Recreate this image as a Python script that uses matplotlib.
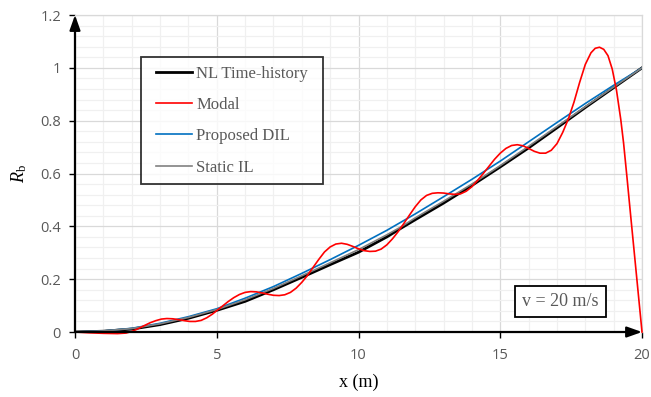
import matplotlib

matplotlib.use('Agg')

import matplotlib.pyplot as plt
from matplotlib.legend_handler import HandlerLine2D
from matplotlib.lines import Line2D
from matplotlib.ticker import MultipleLocator, FuncFormatter

# ---------------------------------------------------------------------------
# Data (x in m, R_b dimensionless)
# ---------------------------------------------------------------------------
x_static = [0, 1, 2, 3, 4, 5, 6, 7, 8, 9, 10, 11, 11.5, 12, 13, 14, 15, 16,
            17, 18, 19, 20]
rb_static = [0.0, 0.004, 0.013, 0.031, 0.055, 0.085, 0.122, 0.165, 0.213,
             0.262, 0.312, 0.368, 0.398, 0.432, 0.495, 0.560, 0.630, 0.703,
             0.778, 0.853, 0.927, 1.0]

x_dil = [0, 1, 2, 3, 4, 5, 6, 7, 8, 9, 10, 11, 12, 13, 14, 15, 16, 17, 18,
         19, 20]
rb_dil = [0.0, 0.004, 0.014, 0.033, 0.058, 0.088, 0.128, 0.172, 0.222,
          0.274, 0.328, 0.385, 0.447, 0.512, 0.578, 0.647, 0.720, 0.793,
          0.865, 0.934, 1.0]

x_nl = [0, 1, 2, 3, 4, 5, 6, 7, 8, 9, 10, 11, 11.5, 12, 13, 14, 15, 16, 17,
        18, 19, 20]
rb_nl = [0.0, 0.003, 0.011, 0.028, 0.052, 0.082, 0.116, 0.160, 0.207, 0.255,
         0.302, 0.360, 0.393, 0.425, 0.488, 0.555, 0.625, 0.697, 0.773, 0.850,
         0.925, 1.0]

x_modal = [0.0, 0.5, 1.0, 1.5, 1.8, 2.0, 2.2, 2.4, 2.65, 2.85, 3.05, 3.24,
           3.45, 3.65, 3.85, 4.05, 4.25, 4.45, 4.65, 4.85, 5.0, 5.2, 5.4,
           5.6, 5.8, 6.0, 6.2, 6.4, 6.6, 6.8, 7.0, 7.2, 7.4, 7.6, 7.8, 8.0,
           8.2, 8.4, 8.6, 8.8, 9.0, 9.2, 9.4, 9.6, 9.8, 10.0, 10.2, 10.4,
           10.6, 10.8, 11.0, 11.2, 11.4, 11.6, 11.8, 12.0, 12.2, 12.4, 12.6,
           12.8, 13.0, 13.2, 13.4, 13.6, 13.8, 14.0, 14.2, 14.4, 14.6, 14.8,
           15.0, 15.2, 15.4, 15.6, 15.8, 16.0, 16.2, 16.4, 16.6, 16.8, 17.0,
           17.2, 17.4, 17.6, 17.8, 18.0, 18.2, 18.35, 18.5, 18.65, 18.8,
           18.95, 19.1, 19.25, 19.35, 19.47, 19.6, 19.8, 20.0]
rb_modal = [0.0, -0.003, -0.005, -0.006, -0.004, 0.002, 0.011, 0.022, 0.035,
            0.043, 0.049, 0.051, 0.050, 0.047, 0.043, 0.040, 0.040, 0.044,
            0.054, 0.068, 0.081, 0.098, 0.115, 0.130, 0.142, 0.150, 0.153,
            0.152, 0.148, 0.143, 0.139, 0.138, 0.141, 0.150, 0.166, 0.188,
            0.214, 0.245, 0.275, 0.303, 0.322, 0.333, 0.336, 0.332, 0.324,
            0.315, 0.308, 0.305, 0.306, 0.314, 0.330, 0.353, 0.380, 0.411,
            0.443, 0.474, 0.500, 0.517, 0.525, 0.527, 0.526, 0.523, 0.521,
            0.523, 0.533, 0.550, 0.574, 0.600, 0.627, 0.654, 0.677, 0.695,
            0.706, 0.709, 0.705, 0.695, 0.684, 0.677, 0.677, 0.688, 0.713,
            0.755, 0.806, 0.870, 0.945, 1.013, 1.057, 1.074, 1.078, 1.070,
            1.046, 0.995, 0.915, 0.805, 0.715, 0.585, 0.440, 0.220, 0.0]

labels = ['NL Time-history', 'Modal', 'Proposed DIL', 'Static IL']
colors = ['#000000', '#ff0000', '#0070c0', '#808080']

SERIF = ['Liberation Serif', 'DejaVu Serif']
TICK_FONT = ['Open Sans', 'DejaVu Sans']
TEXT_GRAY = '#595959'

plt.rcParams['mathtext.fontset'] = 'custom'
plt.rcParams['mathtext.rm'] = 'Liberation Serif'
plt.rcParams['mathtext.it'] = 'Liberation Serif:italic'

fig = plt.figure(figsize=(6.51, 3.97), dpi=100)
ax = fig.add_axes([0.1152, 0.1637, 0.8710, 0.7985])

ax.plot(x_nl, rb_nl, color=colors[0], lw=2.0, label=labels[0], zorder=3)
ax.plot(x_dil, rb_dil, color=colors[2], lw=1.2, label=labels[2], zorder=4)
ax.plot(x_static, rb_static, color=colors[3], lw=1.2, label=labels[3], zorder=5)
ax.plot(x_modal, rb_modal, color=colors[1], lw=1.2, label=labels[1], zorder=6,
        clip_on=False)

ax.set_xlim(0, 20)
ax.set_ylim(0, 1.2)
ax.xaxis.set_major_locator(MultipleLocator(5))
ax.xaxis.set_minor_locator(MultipleLocator(1))
ax.yaxis.set_major_locator(MultipleLocator(0.2))
ax.yaxis.set_minor_locator(MultipleLocator(0.04))
ax.yaxis.set_major_formatter(FuncFormatter(lambda v, p: f'{v:g}'))
ax.xaxis.set_major_formatter(FuncFormatter(lambda v, p: f'{v:g}'))

ax.grid(True, which='major', color='#d9d9d9', lw=0.9, zorder=0)
ax.grid(True, which='minor', color='#f0f0f0', lw=0.9, zorder=0)
ax.set_axisbelow(True)

ax.tick_params(which='major', direction='out', length=4, width=1.0,
               color='black', labelcolor=TEXT_GRAY, labelsize=10.5)
ax.tick_params(axis='x', which='major', pad=7.5)
ax.tick_params(axis='y', which='major', pad=6)
ax.tick_params(which='minor', length=0)
for lbl in ax.get_xticklabels() + ax.get_yticklabels():
    lbl.set_family(TICK_FONT)

for side in ('top', 'right'):
    ax.spines[side].set_color('#d9d9d9')
    ax.spines[side].set_linewidth(0.9)
for side in ('left', 'bottom'):
    ax.spines[side].set_visible(False)

# axis lines with arrow heads
arrow_kw = dict(arrowstyle='-|>,head_length=0.9,head_width=0.32',
                color='black', lw=1.6, shrinkA=0, shrinkB=0)
ax.annotate('', xy=(0, 1.2), xytext=(0, 0), xycoords='data',
            arrowprops=arrow_kw, annotation_clip=False, zorder=7)
ax.annotate('', xy=(20, 0), xytext=(0, 0), xycoords='data',
            arrowprops=arrow_kw, annotation_clip=False, zorder=7)

ax.set_xlabel('x (m)', family=SERIF, fontsize=13, color='black', labelpad=8)
ax.set_ylabel(r'$\mathit{R}_{\mathrm{b}}$', fontsize=13, color='black',
              labelpad=8)

handles, lbls = ax.get_legend_handles_labels()
order = [lbls.index(l) for l in labels]
leg = ax.legend([handles[i] for i in order], [lbls[i] for i in order],
                loc='upper left', bbox_to_anchor=(0.116, 0.473, 0.321, 0.394),
                mode='expand',
                prop={'family': SERIF, 'size': 12}, labelcolor=TEXT_GRAY,
                frameon=True, fancybox=False, edgecolor='black',
                borderpad=0.5, labelspacing=0.92, handlelength=2.58,
                handletextpad=0.24, borderaxespad=0,
                handler_map={Line2D: HandlerLine2D(xpad=0.42)})
leg.get_frame().set_linewidth(1.3)
leg.set_zorder(8)

ax.text(0.856, 0.096, 'v = 20 m/s', transform=ax.transAxes, ha='center',
        va='center', family=SERIF, fontsize=13, color=TEXT_GRAY, zorder=8,
        bbox=dict(boxstyle='square,pad=0.4', facecolor='white',
                  edgecolor='black', linewidth=1.3))

fig.savefig('out.png', dpi=100)
